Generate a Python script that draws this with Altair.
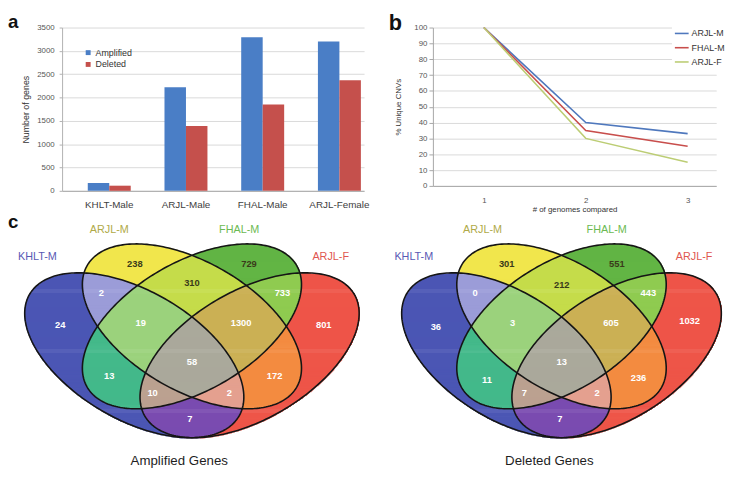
import altair as alt
import numpy as np
import pandas as pd

# ---------------- data ----------------
samples = ["KHLT-Male", "ARJL-Male", "FHAL-Male", "ARJL-Female"]
cnv_types = ["Amplified", "Deleted"]
amplified_genes = [170, 2220, 3290, 3200]
deleted_genes = [110, 1390, 1850, 2370]

genomes_compared = [1, 2, 3]
line_series = ["ARJL-M", "FHAL-M", "ARJL-F"]
arjl_m_unique = [100, 40, 33]
fhal_m_unique = [100, 35, 25]
arjl_f_unique = [100, 30, 15]

set_names = ["KHLT-M", "ARJL-M", "FHAL-M", "ARJL-F"]
region_keys = ["A", "B", "C", "D", "AB", "AC", "AD", "BC", "BD", "CD",
               "ABC", "ABD", "ACD", "BCD", "ABCD"]
amplified_counts = [24, 238, 729, 801, 2, 13, 7, 310, 172, 733, 19, 2, 10, 1300, 58]
deleted_counts = [36, 301, 551, 1032, 0, 11, 7, 212, 236, 443, 3, 2, 7, 605, 13]
venn_titles = ["Amplified Genes", "Deleted Genes"]

# ---------------- styles ----------------
FONT = "Liberation Sans"
BAR_COLORS = ["#4a7ec6", "#c5504c"]
LINE_COLORS = ["#4f78bd", "#c84e4c", "#bccd74"]
REGION_COLORS = {
    "A": "#4b56b4", "B": "#f1e64c", "C": "#62b544", "D": "#ee5548",
    "AB": "#9b9cd8", "AC": "#43b98a", "AD": "#7a4bb0", "BC": "#c5dc4a",
    "BD": "#f38b40", "CD": "#8fcb50", "ABC": "#9bd27c", "ABD": "#e4a08f",
    "ACD": "#bba190", "BCD": "#cbb054", "ABCD": "#aaa99b",
}
SET_LABEL_COLORS = ["#5858b4", "#b0aa48", "#6cba52", "#e05650"]
DARK_REGIONS = {"B", "C", "BC"}

# Venn geometry (unit space) and panel mapping
ELL_A, ELL_B = 0.35, 0.2
ELLIPSES = [(0.35, 0.47, -45.0), (0.50, 0.57, -45.0),
            (0.50, 0.57, 45.0), (0.65, 0.47, 45.0)]
U_LEFT, U1 = 0.0215, 0.9478
SX_LEFT = 390.8
LEFT_OFFSET = 55
RIGHT_W = 346
SY_PX = 294.0
VENN_H = 256
V_TOP = 0.9604
V_BOT = V_TOP - VENN_H / SY_PX
SET_LABEL_UV = [(0.098, 0.811), (0.285, 0.903), (0.623, 0.903), (0.861, 0.811)]
TITLE_UV = (0.467, V_TOP - 252 / SY_PX)

CODE_TO_KEY = {c: "".join("ABCD"[k] for k in range(4) if (c >> k) & 1) for c in range(1, 16)}


def region_codes(u, v):
    code = np.zeros(np.shape(u), dtype=int)
    for k, (cx, cy, ang) in enumerate(ELLIPSES):
        th = np.radians(ang)
        du, dv = u - cx, v - cy
        m = du * np.cos(th) + dv * np.sin(th)
        n = -du * np.sin(th) + dv * np.cos(th)
        code |= (((m / ELL_A) ** 2 + (n / ELL_B) ** 2) <= 1.0).astype(int) << k
    return code


def raster(ua, ub, W, H):
    sx = W / (ub - ua)
    sy = H / (V_TOP - V_BOT)
    n = int(round((ub - ua) * sx))
    u = ua + (np.arange(n) + 0.5) / sx
    recs = []
    for py in range(H):
        v = V_TOP - (py + 0.5) / sy
        codes = region_codes(u, np.full(n, v))
        cuts = np.flatnonzero(np.diff(codes)) + 1
        starts = np.concatenate([[0], cuts])
        ends = np.concatenate([cuts, [n]])
        for s, e in zip(starts, ends):
            c = int(codes[s])
            if c == 0:
                continue
            recs.append({
                "u1": round(ua + s / sx, 5), "u2": round(ua + (e + 0.7) / sx, 5),
                "v1": round(V_TOP - py / sy, 5), "v2": round(V_TOP - (py + 1.7) / sy, 5),
                "region": CODE_TO_KEY[c],
            })
    return pd.DataFrame(recs)


def label_points(ua, ub, W, H, step=2.0):
    sx = W / (ub - ua)
    sy = H / (V_TOP - V_BOT)
    gx = np.arange(step / 2, W, step)
    gy = np.arange(step / 2, H, step)
    PX, PY = np.meshgrid(gx, gy)
    codes = region_codes(ua + PX / sx, V_TOP - PY / sy)
    out = {}
    for c in range(1, 16):
        mask = codes == c
        nb = np.zeros_like(mask)
        nb[1:, :] |= mask[:-1, :]
        nb[:-1, :] |= mask[1:, :]
        nb[:, 1:] |= mask[:, :-1]
        nb[:, :-1] |= mask[:, 1:]
        edge = nb & ~mask
        ip = np.column_stack([PX[mask], PY[mask]])
        ep = np.column_stack([PX[edge], PY[edge]])
        best, bestd = ip[0], -1.0
        for i in range(0, len(ip), 1500):
            chunk = ip[i:i + 1500]
            d = np.sqrt(((chunk[:, None, :] - ep[None, :, :]) ** 2).sum(-1)).min(1)
            j = int(d.argmax())
            if d[j] > bestd:
                bestd = float(d[j])
                best = chunk[j]
        out[CODE_TO_KEY[c]] = (ua + best[0] / sx, V_TOP - best[1] / sy)
    return out


def outline_df():
    t = np.linspace(0, 2 * np.pi, 241)
    rows = []
    for k, (cx, cy, ang) in enumerate(ELLIPSES):
        th = np.radians(ang)
        x = cx + ELL_A * np.cos(t) * np.cos(th) - ELL_B * np.sin(t) * np.sin(th)
        y = cy + ELL_A * np.cos(t) * np.sin(th) + ELL_B * np.sin(t) * np.cos(th)
        for i in range(len(t)):
            rows.append({"set": set_names[k], "t": i, "u": x[i], "v": y[i]})
    return pd.DataFrame(rows)


def venn_chart(counts, title, sx, plot_offset_px, W, H, letter=None):
    ua = U_LEFT
    ub = U_LEFT + (plot_offset_px + W) / sx
    dom0 = U_LEFT + plot_offset_px / sx
    xs = alt.Scale(domain=[dom0, ub], nice=False, zero=False)
    ys = alt.Scale(domain=[V_BOT, V_TOP], nice=False, zero=False)
    full_w = plot_offset_px + W
    rect_df = raster(ua, ub, full_w, H)
    fills = alt.Chart(rect_df).mark_rect(strokeWidth=0).encode(
        x=alt.X("u1:Q", scale=xs, axis=None), x2="u2:Q",
        y=alt.Y("v1:Q", scale=ys, axis=None), y2="v2:Q",
        color=alt.Color("region:N", legend=None,
                        scale=alt.Scale(domain=region_keys,
                                        range=[REGION_COLORS[k] for k in region_keys])),
    )
    outlines = alt.Chart(outline_df()).mark_line(color="#151515", strokeWidth=1.6).encode(
        x=alt.X("u:Q", scale=xs, axis=None), y=alt.Y("v:Q", scale=ys, axis=None),
        detail="set:N", order="t:Q",
    )
    pts = label_points(ua, ub, full_w, H)
    lab = pd.DataFrame({
        "region": region_keys,
        "count": [str(c) for c in counts],
        "u": [pts[k][0] for k in region_keys],
        "v": [pts[k][1] for k in region_keys],
    })
    layers = [fills, outlines]
    for dark in (False, True):
        sub = lab[lab["region"].isin(DARK_REGIONS) == dark]
        layers.append(alt.Chart(sub).mark_text(
            font=FONT, fontSize=9.5, fontWeight="bold",
            color="#3a3a1a" if dark else "#ffffff").encode(
            x=alt.X("u:Q", scale=xs, axis=None), y=alt.Y("v:Q", scale=ys, axis=None),
            text="count:N"))
    for k, name in enumerate(set_names):
        sdf = pd.DataFrame({"name": [name], "u": [SET_LABEL_UV[k][0]], "v": [SET_LABEL_UV[k][1]]})
        layers.append(alt.Chart(sdf).mark_text(font=FONT, fontSize=11, color=SET_LABEL_COLORS[k]).encode(
            x=alt.X("u:Q", scale=xs, axis=None), y=alt.Y("v:Q", scale=ys, axis=None), text="name:N"))
    tdf = pd.DataFrame({"t": [title], "u": [TITLE_UV[0]], "v": [TITLE_UV[1]]})
    layers.append(alt.Chart(tdf).mark_text(font=FONT, fontSize=13.5, color="#1e1e1e").encode(
        x=alt.X("u:Q", scale=xs, axis=None), y=alt.Y("v:Q", scale=ys, axis=None), text="t:N"))
    if letter:
        ldf = pd.DataFrame({"t": [letter], "u": [U_LEFT], "v": [V_TOP]})
        layers.append(alt.Chart(ldf).mark_text(font=FONT, fontSize=19, fontWeight="bold",
                                               align="left", baseline="top", color="#111").encode(
            x=alt.X("u:Q", scale=xs, axis=None), y=alt.Y("v:Q", scale=ys, axis=None), text="t:N"))
    return alt.layer(*layers).properties(width=W, height=H)


# ---------------- panel a ----------------
bar_df = pd.DataFrame({
    "sample": samples * 2,
    "type": [cnv_types[0]] * 4 + [cnv_types[1]] * 4,
    "genes": amplified_genes + deleted_genes,
})
bars = alt.Chart(bar_df).mark_bar().encode(
    x=alt.X("sample:N", sort=samples,
            scale=alt.Scale(paddingInner=0.44, paddingOuter=0.188, align=0.89),
            axis=alt.Axis(title=None, labelAngle=0, labelFontSize=10, labelColor="#404040",
                          ticks=False, domainColor="#a6a6a6", labelPadding=9)),
    xOffset=alt.XOffset("type:N", sort=cnv_types, scale=alt.Scale(paddingInner=0, paddingOuter=0)),
    y=alt.Y("genes:Q", scale=alt.Scale(domain=[0, 3500], nice=False),
            axis=alt.Axis(values=list(range(0, 3501, 500)), format="d", title="Number of genes",
                          titleFontSize=9, titleFontWeight="normal", titleColor="#333",
                          titlePadding=6, labelFontSize=8, labelColor="#555",
                          gridColor="#d9d9d9", domainColor="#b0b0b0", tickColor="#b0b0b0",
                          tickSize=3, labelPadding=5)),
    color=alt.Color("type:N", sort=cnv_types,
                    scale=alt.Scale(domain=cnv_types, range=BAR_COLORS),
                    legend=alt.Legend(title=None, orient="none", legendX=22, legendY=21,
                                      symbolType="square", symbolSize=25, labelFontSize=9,
                                      labelColor="#333", rowPadding=2, labelOffset=3)),
)
letter_a = alt.Chart(pd.DataFrame({"t": ["a"]})).mark_text(
    font=FONT, fontSize=19, fontWeight="bold", align="left", baseline="top", color="#111"
).encode(x=alt.value(-55), y=alt.value(-15), text="t:N")
panel_a = alt.layer(bars, letter_a).properties(width=307, height=166)

# ---------------- panel b ----------------
line_df = pd.DataFrame({
    "genomes": genomes_compared * 3,
    "series": [s for s in line_series for _ in genomes_compared],
    "pct": arjl_m_unique + fhal_m_unique + arjl_f_unique,
})
lines = alt.Chart(line_df).mark_line(strokeWidth=1.6).encode(
    x=alt.X("genomes:Q", scale=alt.Scale(domain=[0.5, 3.28], nice=False, zero=False),
            axis=alt.Axis(values=genomes_compared, format="d", grid=False,
                          title="# of genomes compared", titleFontSize=8,
                          titleFontWeight="normal", titleColor="#333", titlePadding=1,
                          labelFontSize=8, labelColor="#555", ticks=False,
                          domainColor="#a6a6a6", labelPadding=11)),
    y=alt.Y("pct:Q", scale=alt.Scale(domain=[0, 100], nice=False),
            axis=alt.Axis(values=list(range(0, 101, 10)), title="% Unique CNVs",
                          titleFontSize=8, titleFontWeight="normal", titleColor="#333",
                          titlePadding=12, labelFontSize=8, labelColor="#555",
                          gridColor="#d9d9d9", domainColor="#a6a6a6", tickColor="#a6a6a6",
                          tickSize=4, labelPadding=2)),
    color=alt.Color("series:N", sort=line_series,
                    scale=alt.Scale(domain=line_series, range=LINE_COLORS),
                    legend=alt.Legend(title=None, orient="none", legendX=243, legendY=-4,
                                      symbolType="stroke", symbolSize=196, symbolStrokeWidth=1.6,
                                      labelFontSize=9, labelColor="#333", rowPadding=1.5,
                                      labelOffset=2, fillColor="white", padding=2)),
)
letter_b = alt.Chart(pd.DataFrame({"t": ["b"]})).mark_text(
    font=FONT, fontSize=22, fontWeight="bold", align="left", baseline="top", color="#111"
).encode(x=alt.value(-45), y=alt.value(-15), text="t:N")
panel_b = alt.layer(lines, letter_b).properties(width=288, height=161)

# ---------------- panel c ----------------
venn_amp = venn_chart(amplified_counts, venn_titles[0], SX_LEFT, LEFT_OFFSET, 362 - LEFT_OFFSET,
                      VENN_H, letter="c")
venn_del = venn_chart(deleted_counts, venn_titles[1], RIGHT_W / (U1 - U_LEFT), 0, RIGHT_W, VENN_H)

top = alt.hconcat(panel_a, panel_b, spacing=20).resolve_scale(color="independent")
bottom = alt.hconcat(venn_amp, venn_del, spacing=22).resolve_scale(color="independent")
chart = (alt.vconcat(top, bottom, spacing=0, padding=0)
         .resolve_scale(color="independent")
         .configure_view(stroke=None)
         .configure_axis(labelFont=FONT, titleFont=FONT)
         .configure_legend(labelFont=FONT))

chart.save("out.html", embed_options={"renderer": "svg", "actions": False})
